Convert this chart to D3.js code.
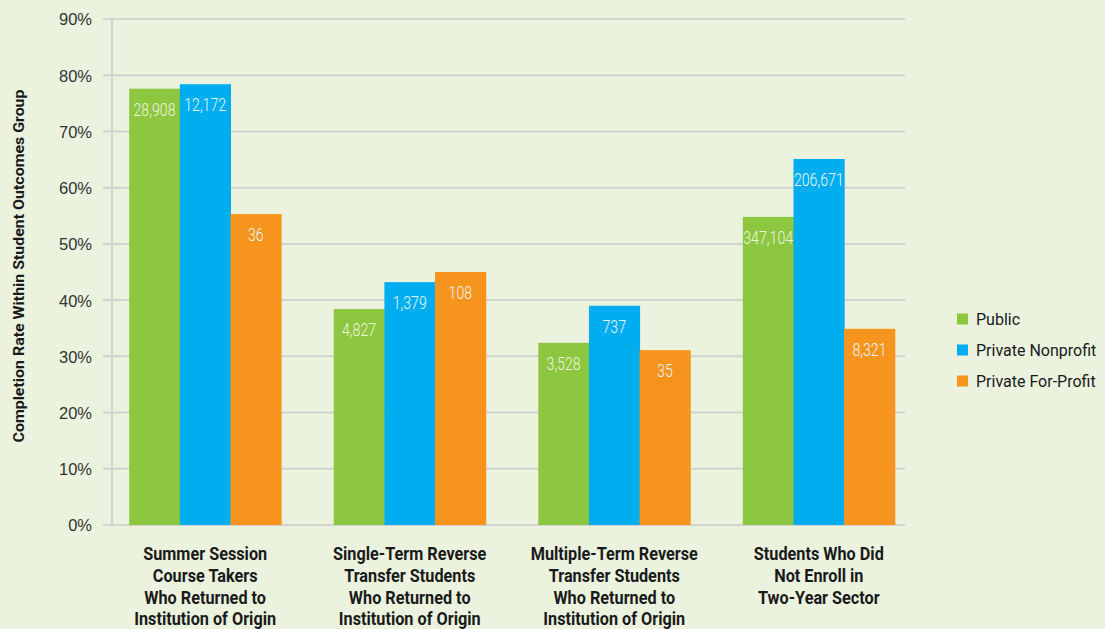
<!DOCTYPE html>
<html><head><meta charset="utf-8">
<script src="https://cdn.jsdelivr.net/npm/d3@7"></script>
<style>
body{margin:0;background:#ebf3df;}
svg{display:block;}
</style></head>
<body>
<svg id="chart" width="1105" height="629"></svg>
<script>
const categories = [
  ["Summer Session","Course Takers","Who Returned to","Institution of Origin"],
  ["Single-Term Reverse","Transfer Students","Who Returned to","Institution of Origin"],
  ["Multiple-Term Reverse","Transfer Students","Who Returned to","Institution of Origin"],
  ["Students Who Did","Not Enroll in","Two-Year Sector"]
];
const seriesNames = ["Public","Private Nonprofit","Private For-Profit"];
const publicRates = [77.6, 38.4, 32.4, 54.8];
const nonprofitRates = [78.4, 43.2, 39.0, 65.1];
const forprofitRates = [55.3, 45.0, 31.1, 34.9];
const publicCounts = ["28,908","4,827","3,528","347,104"];
const nonprofitCounts = ["12,172","1,379","737","206,671"];
const forprofitCounts = ["36","108","35","8,321"];
const yTicks = [0,10,20,30,40,50,60,70,80,90];
const colors = ["#8dc63f","#00aeef","#f7941d"];

const svg = d3.select("#chart");
const x0 = d3.scaleBand().domain(d3.range(categories.length)).range([103, 921]).paddingInner(0.257).paddingOuter(0.128);
const x1 = d3.scaleBand().domain(d3.range(3)).range([0, x0.bandwidth()]);
const y = d3.scaleLinear().domain([0,90]).range([525,19]);

const cond = "Roboto,'Liberation Sans',sans-serif";

function condense(sel, factor){
  sel.each(function(){
    const w = this.getComputedTextLength();
    d3.select(this).attr("textLength", w*factor).attr("lengthAdjust","spacingAndGlyphs");
  });
}
function factorFor(str, size, weight, target){
  const t = svg.append("text").attr("font-family",cond).attr("font-size",size).attr("font-weight",weight).text(str);
  const w = t.node().getComputedTextLength();
  t.remove();
  return target/w;
}

svg.append("g").selectAll("line").data(yTicks).join("line")
  .attr("x1",103).attr("x2",905)
  .attr("y1",d=>y(d)).attr("y2",d=>y(d))
  .attr("stroke","#d2d3d0").attr("stroke-width",2);
svg.append("line").attr("x1",112).attr("x2",112).attr("y1",y(90)).attr("y2",y(0))
  .attr("stroke","#d2d3d0").attr("stroke-width",2);

const yAxis = d3.axisLeft(y).tickValues(yTicks).tickFormat(d=>d+"%").tickSize(0).tickPadding(0);
const ga = svg.append("g").attr("transform","translate(92,0)").call(yAxis);
ga.select(".domain").remove();
ga.selectAll("text").attr("font-family","'Liberation Sans',Arial,sans-serif").attr("font-size",16.5).attr("fill","#333").attr("dy","0.36em");

const series = [
  {vals:publicRates, counts:publicCounts},
  {vals:nonprofitRates, counts:nonprofitCounts},
  {vals:forprofitRates, counts:forprofitCounts}
];
const data = [];
categories.forEach((c,i)=>series.forEach((s,j)=>data.push({i,j,v:s.vals[i],c:s.counts[i]})));

svg.append("g").selectAll("rect").data(data).join("rect")
  .attr("x",d=>x0(d.i)+x1(d.j)).attr("width",x1.bandwidth()+0.5)
  .attr("y",d=>y(d.v)).attr("height",d=>y(0)-y(d.v))
  .attr("fill",d=>colors[d.j]);

const fVal = factorFor("28,908", 19, 300, 42);
const vl = svg.append("g").selectAll("text").data(data).join("text")
  .attr("x",d=>x0(d.i)+x1(d.j)+x1.bandwidth()/2)
  .attr("y",d=>y(d.v)+27)
  .attr("text-anchor","middle")
  .attr("font-family",cond).attr("font-size",19).attr("font-weight",300)
  .attr("fill",d=>d.j===0?"#eef6e0":"#eaf6fc")
  .text(d=>d.c);
condense(vl, fVal);

const fX = factorFor("Summer Session", 17.5, "bold", 124);
const xl = svg.append("g").selectAll("text").data(categories).join("text")
  .attr("x",(d,i)=>x0(i)+x0.bandwidth()/2)
  .attr("y",560)
  .attr("text-anchor","middle")
  .attr("font-family",cond).attr("font-weight","bold").attr("font-size",17.5)
  .attr("fill","#1a1a1a");
xl.each(function(d){
  const t = d3.select(this);
  d.forEach((line,k)=>t.append("tspan").attr("x",t.attr("x")).attr("dy",k===0?0:21.8).text(line));
});
condense(xl.selectAll("tspan"), fX);

const fT = factorFor("Completion Rate Within Student Outcomes Group", 15.5, "bold", 353);
const yt = svg.append("text").attr("transform","translate(23.5,266) rotate(-90)")
  .attr("text-anchor","middle")
  .attr("font-family",cond).attr("font-weight","bold").attr("font-size",15.5)
  .attr("fill","#1a1a1a")
  .text("Completion Rate Within Student Outcomes Group");
condense(yt, fT);

const fL = factorFor("Private Nonprofit", 16, "normal", 122);
const lg = svg.append("g").selectAll("g").data(seriesNames).join("g")
  .attr("transform",(d,i)=>`translate(957,${319+i*31})`);
lg.append("rect").attr("x",0).attr("y",-5.5).attr("width",11).attr("height",11).attr("fill",(d,i)=>colors[i]);
const lt = lg.append("text").attr("x",19).attr("y",0).attr("dy","0.36em")
  .attr("font-family",cond).attr("font-size",16).attr("fill","#1a1a1a").text(d=>d);
condense(lt, Math.min(1, fL));
</script>
</body></html>
